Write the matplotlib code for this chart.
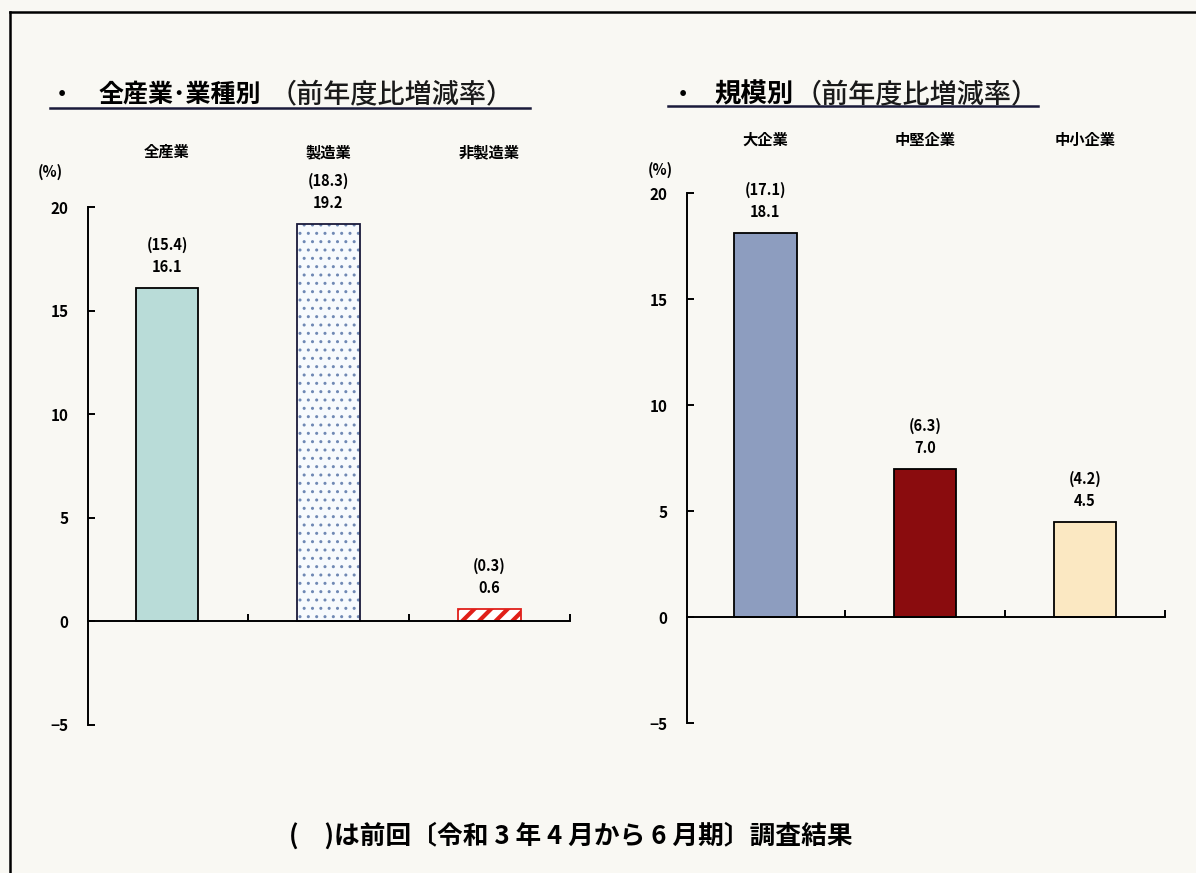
import matplotlib
matplotlib.use("Agg")
import matplotlib.pyplot as plt
from matplotlib.lines import Line2D
from matplotlib.transforms import blended_transform_factory

plt.rcParams['font.family'] = ['Noto Sans CJK JP', 'DejaVu Sans']

# ---- data ----
industry_cats = ['全産業', '製造業', '非製造業']
industry_vals = [16.1, 19.2, 0.6]
industry_prev = [15.4, 18.3, 0.3]

size_cats = ['大企業', '中堅企業', '中小企業']
size_vals = [18.1, 7.0, 4.5]
size_prev = [17.1, 6.3, 4.2]

yticks = [-5, 0, 5, 10, 15, 20]
ytick_labels = ['−5', '0', '5', '10', '15', '20']

title_left_main = '全産業･業種別'
title_right_main = '規模別'
title_sub = '（前年度比増減率）'
footer = '(　)は前回〔令和 3 年 4 月から 6 月期〕調査結果'

W, H = 1196, 873
BG = '#f9f8f3'
fig = plt.figure(figsize=(W / 100, H / 100), dpi=100, facecolor=BG)


def fx(px):
    return px / W


def fy(py):
    return 1 - py / H


# frame
fig.add_artist(Line2D([fx(10), fx(10)], [fy(12), fy(873)], color='black', lw=1.8))
fig.add_artist(Line2D([fx(10), fx(1196)], [fy(12), fy(12)], color='black', lw=1.8))


def style_axes(ax):
    ax.set_facecolor('none')
    ax.set_xlim(-0.49, 2.5)
    ax.set_ylim(-5, 20)
    ax.spines['top'].set_visible(False)
    ax.spines['right'].set_visible(False)
    ax.spines['bottom'].set_position(('data', 0))
    ax.spines['left'].set_linewidth(1.4)
    ax.spines['bottom'].set_linewidth(1.4)
    ax.set_yticks(yticks)
    ax.set_yticklabels(ytick_labels, fontsize=11, fontweight='bold')
    ax.set_xticks([0.5, 1.5, 2.5])
    ax.set_xticklabels([])
    ax.tick_params(axis='y', direction='in', length=5, width=1.4, pad=14)
    ax.tick_params(axis='x', direction='in', length=5, width=1.4)


def annotate(ax, vals, prev):
    for i, (v, p) in enumerate(zip(vals, prev)):
        ax.annotate(f'{v:.1f}', (i, v), xytext=(0, 15), textcoords='offset points',
                    ha='center', va='center', fontsize=10.5, fontweight='bold')
        ax.annotate(f'({p:.1f})', (i, v), xytext=(0, 31), textcoords='offset points',
                    ha='center', va='center', fontsize=10.5, fontweight='bold')


# ---- left axes ----
axL = fig.add_axes([fx(88), fy(724.5), fx(570 - 88), (724.5 - 207) / H])
style_axes(axL)
xs = list(range(len(industry_cats)))
bw = 0.39
axL.bar(xs[0], industry_vals[0], width=bw, color='#b9dcd8', edgecolor='black', lw=1.3)
axL.bar(xs[1], industry_vals[1], width=bw, color='#f7fafd', edgecolor='#6f88b4',
        hatch='..', lw=0)
axL.bar(xs[1], industry_vals[1], width=bw, fill=False, edgecolor='#1a1a3a', lw=1.3)
old_hlw = plt.rcParams['hatch.linewidth']
plt.rcParams['hatch.linewidth'] = 3.0
b2 = axL.bar(xs[2], industry_vals[2], width=bw, color='white', edgecolor='#e0201a',
             hatch='//', lw=1.3)
for p in b2:
    if hasattr(p, 'set_hatch_linewidth'):
        p.set_hatch_linewidth(3.0)
plt.rcParams['hatch.linewidth'] = old_hlw
annotate(axL, industry_vals, industry_prev)
trL = blended_transform_factory(axL.transData, fig.transFigure)
for i, c in enumerate(industry_cats):
    axL.text(i, fy(152), c, transform=trL, ha='center', va='center',
             fontsize=11, fontweight='bold')
fig.text(fx(50), fy(172), '(%)', ha='center', va='center', fontsize=10.5, fontweight='bold')

# ---- right axes ----
axR = fig.add_axes([fx(687), fy(723), fx(1165 - 687), (723 - 193) / H])
style_axes(axR)
colors_r = ['#8d9dbf', '#8a0c0e', '#fbe8c2']
axR.bar(range(len(size_cats)), size_vals, width=bw, color=colors_r, edgecolor='black', lw=1.3)
annotate(axR, size_vals, size_prev)
trR = blended_transform_factory(axR.transData, fig.transFigure)
for i, c in enumerate(size_cats):
    axR.text(i, fy(140), c, transform=trR, ha='center', va='center',
             fontsize=11, fontweight='bold')
fig.text(fx(660), fy(170), '(%)', ha='center', va='center', fontsize=10.5, fontweight='bold')

# ---- titles ----
fig.text(fx(62), fy(95), '・', ha='center', va='center', fontsize=16, fontweight='bold')
fig.text(fx(99), fy(95), title_left_main, ha='left', va='center', fontsize=18, fontweight='bold')
fig.text(fx(270), fy(95), title_sub, ha='left', va='center', fontsize=19.5,
         fontweight='medium', color='#1a1a1a')
fig.add_artist(Line2D([fx(50), fx(530)], [fy(108), fy(108)], color='#1a1a3a', lw=1.8))

fig.text(fx(683), fy(95), '・', ha='center', va='center', fontsize=16, fontweight='bold')
fig.text(fx(714), fy(95), title_right_main, ha='left', va='center', fontsize=19, fontweight='bold')
fig.text(fx(795), fy(95), title_sub, ha='left', va='center', fontsize=19.5,
         fontweight='medium', color='#1a1a1a')
fig.add_artist(Line2D([fx(668), fx(1038)], [fy(106), fy(106)], color='#1a1a3a', lw=1.8))

# ---- footer ----
fig.text(fx(571), fy(836), footer, ha='center', va='center', fontsize=18.5, fontweight='bold')

fig.savefig('out.png', dpi=100, facecolor=BG)
